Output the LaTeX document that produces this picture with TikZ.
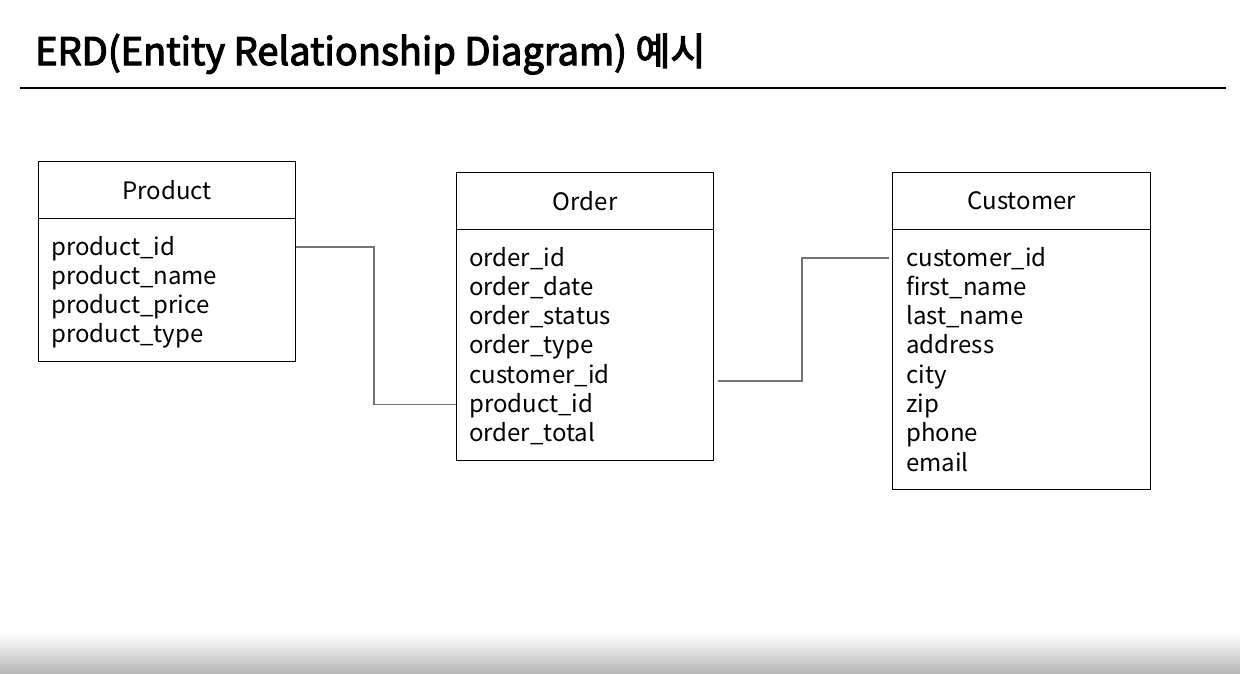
\documentclass[tikz,border=0pt]{standalone}
\usepackage{fontspec}
\setmainfont{Noto Sans CJK KR}
\newfontfamily\headingfont{Noto Sans CJK KR}[FakeBold=3]
\definecolor{linkgray}{RGB}{115,115,115}
\definecolor{shadegray}{RGB}{184,184,184}
\begin{document}
\begin{tikzpicture}[x=1pt,y=-1pt,
  headbox/.style={draw, line width=1.3pt, inner sep=0pt, anchor=north west,
    minimum height=57pt, font=\fontsize{24}{28}\selectfont},
  bodybox/.style={draw, line width=1.3pt, inner sep=0pt, anchor=north west},
  attr/.style={inner sep=0pt, anchor=west, text height=18pt, text depth=2pt,
    font=\fontsize{24}{28}\selectfont},
  link/.style={draw=linkgray, line width=1.1pt},
  ttl/.style={inner sep=0pt, anchor=base west,
    font=\headingfont\fontsize{38}{44}\selectfont}]
\useasboundingbox (0,0) rectangle (1240,673);
\fill[white] (0,0) rectangle (1240,673);
\shade[top color=white, bottom color=shadegray] (0,633) rectangle (1240,673);

% title and rule
\node[ttl] (title) at (35,65) {ERD(Entity Relationship Diagram) 예시};
\coordinate (ruleL) at (20,88);
\coordinate (ruleR) at (1226,88);
\draw[line width=2pt] (ruleL) -- (ruleR);

% Product
\node[headbox, minimum width=257pt] (phead) at (38,161) {Product};
\node[bodybox, minimum width=257pt, minimum height=143pt] (pbody) at (38,218) {};
\foreach \t [count=\i] in {product\_id, product\_name, product\_price, product\_type}
  \node[attr] (p\i) at (51,{247+(\i-1)*29.3}) {\t};

% Order
\node[headbox, minimum width=257pt] (ohead) at (456,172) {Order};
\node[bodybox, minimum width=257pt, minimum height=231pt] (obody) at (456,229) {};
\foreach \t [count=\i] in {order\_id, order\_date, order\_status, order\_type,
    customer\_id, product\_id, order\_total}
  \node[attr] (o\i) at (469,{258+(\i-1)*29.3}) {\t};

% Customer
\node[headbox, minimum width=258pt] (chead) at (892,172) {Customer};
\node[bodybox, minimum width=258pt, minimum height=260pt] (cbody) at (892,229) {};
\foreach \t [count=\i] in {customer\_id, first\_name, last\_name, address,
    city, zip, phone, email}
  \node[attr] (c\i) at (906,{258+(\i-1)*29.3}) {\t};

% relationships
\coordinate (bendA) at (374,320);
\draw[link] (pbody.east |- p1.west) -| (bendA) |- (obody.west |- o6.west);
\coordinate (bendB) at (802,381);
\draw[link] ([xshift=4pt]obody.east |- bendB) -- (bendB) |- ([xshift=-3pt]cbody.west |- c1.west);
\end{tikzpicture}
\end{document}
